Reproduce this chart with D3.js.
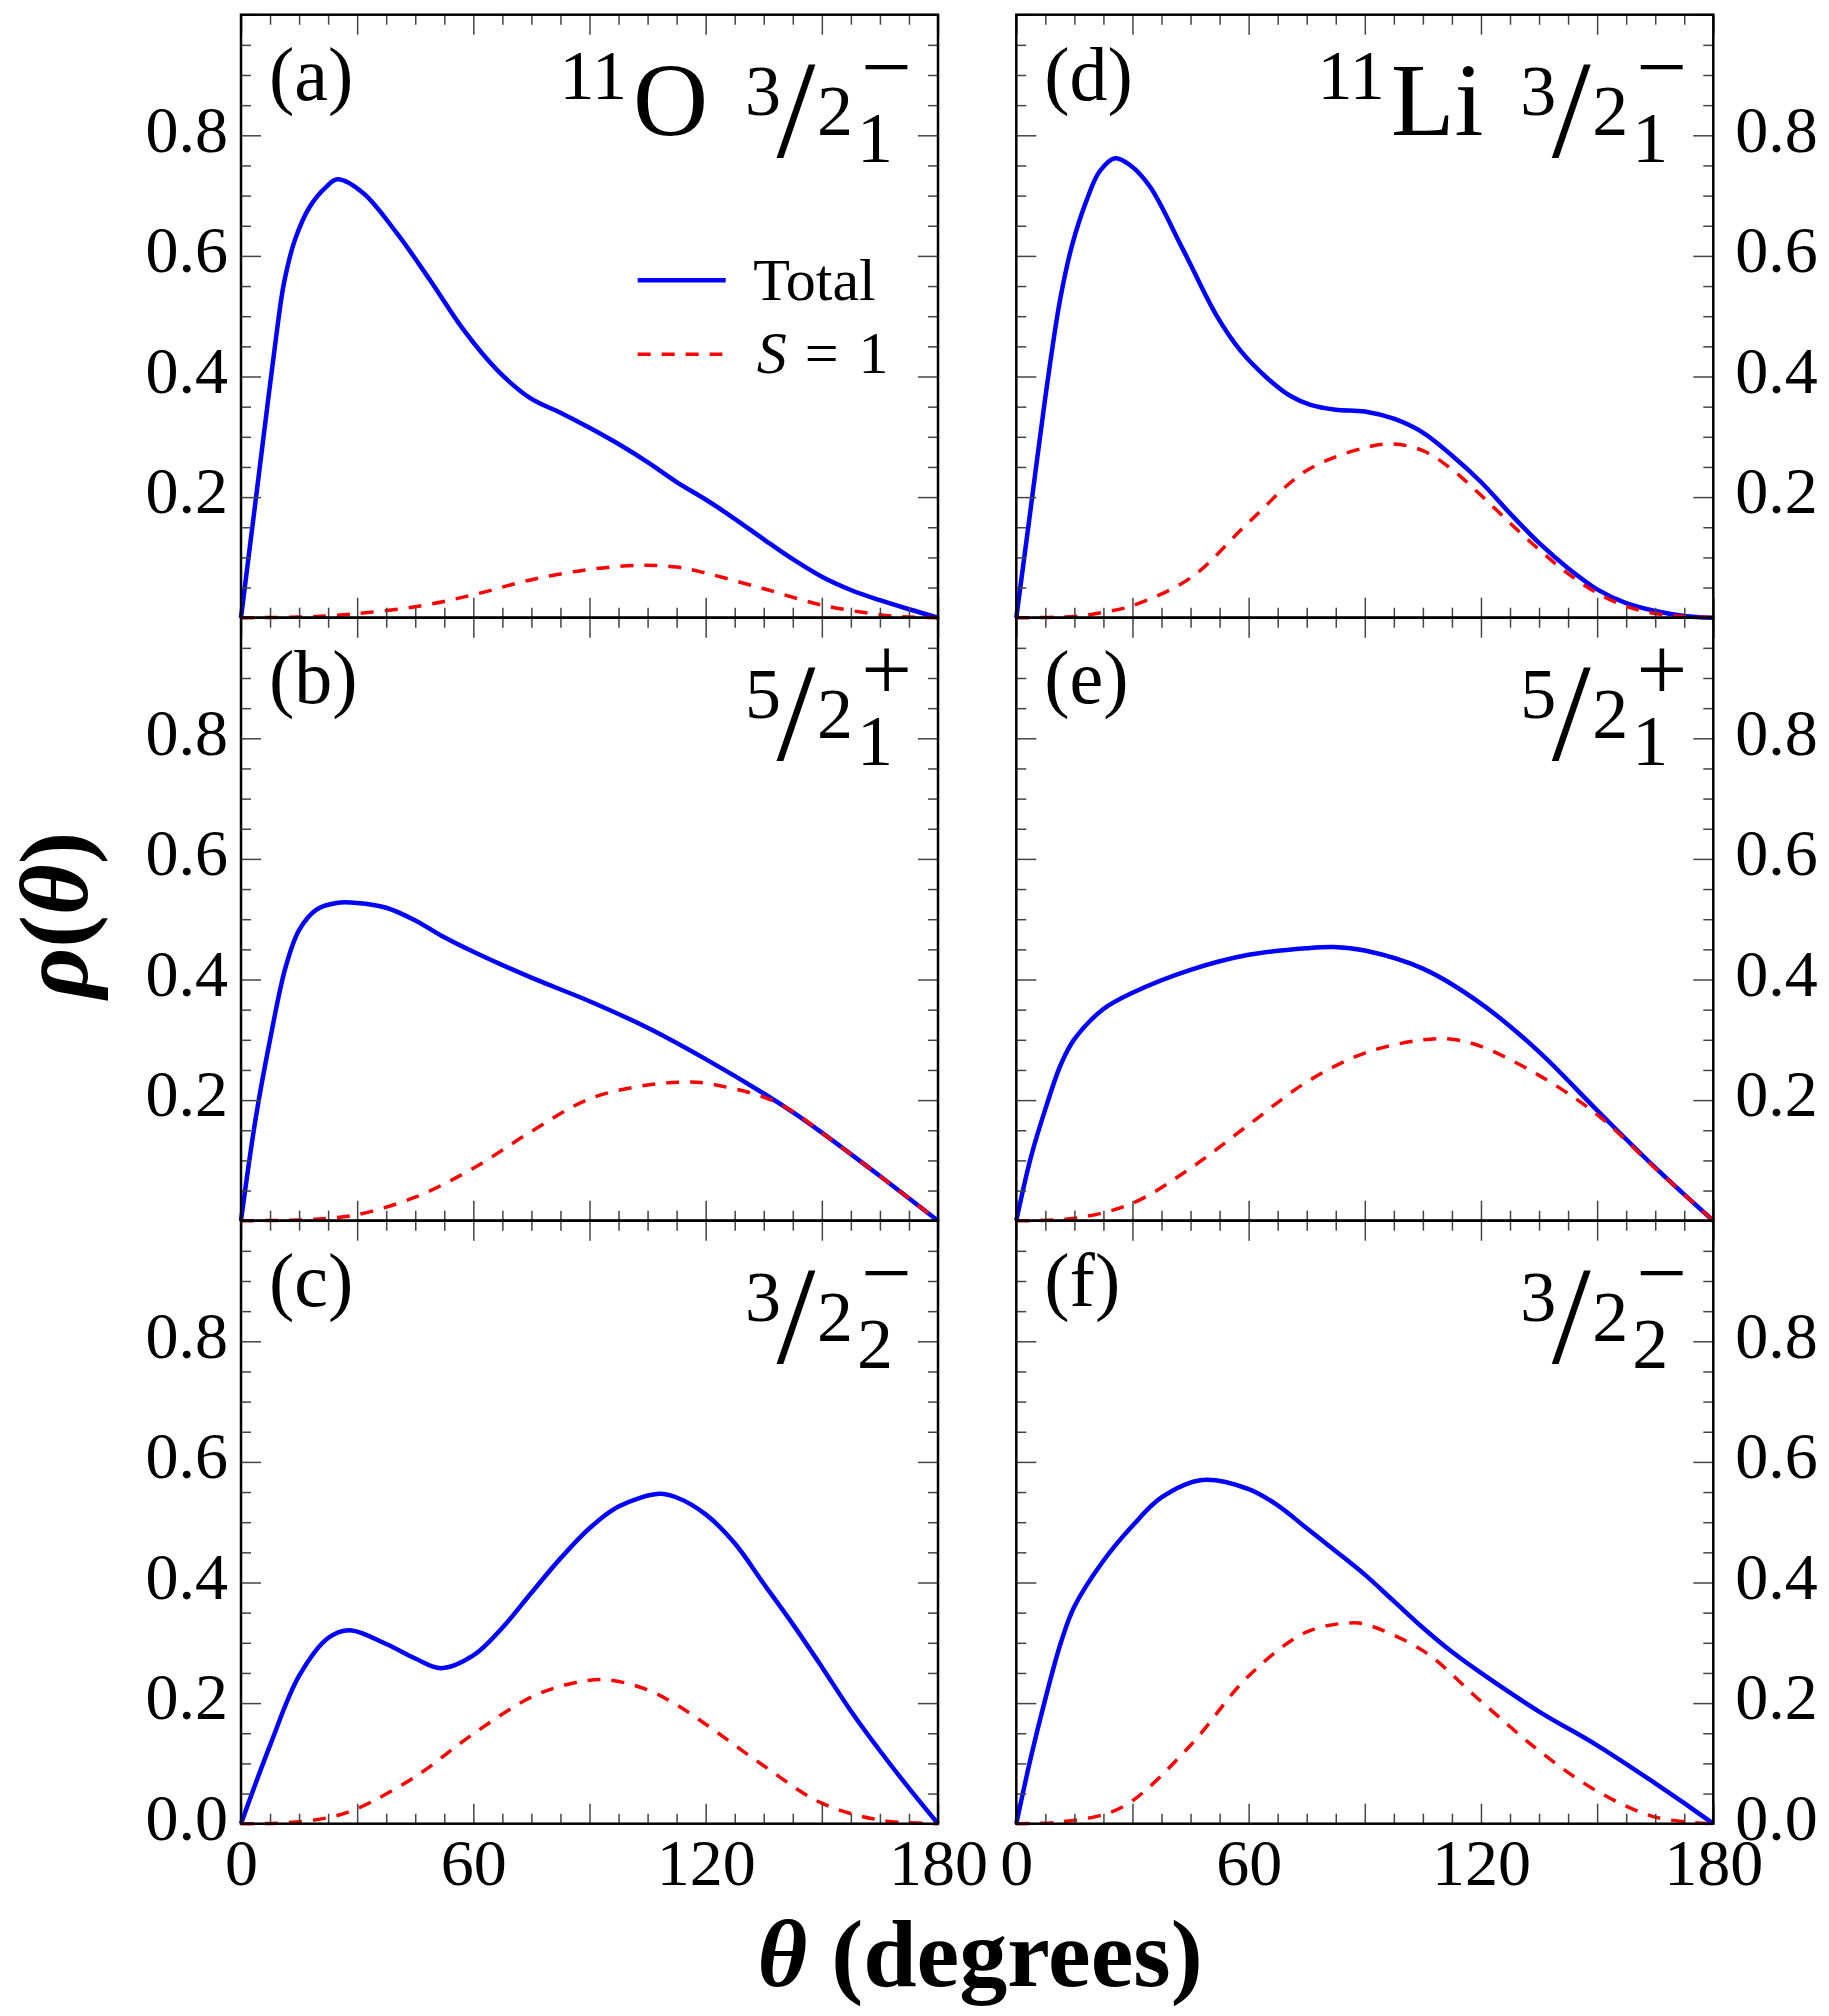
<!DOCTYPE html>
<html>
<head>
<meta charset="utf-8">
<script src="https://cdn.jsdelivr.net/npm/d3@7"></script>
<style>
  body { margin: 0; background: #fff; }
  svg text { font-family: "Liberation Serif", "Times New Roman", serif; fill: #000; }
</style>
</head>
<body>
<svg id="chart" width="1829" height="2016"></svg>
<script>
// angle (degrees), rho(theta) pairs
const totalA = [[0,0],[3.5,0.18],[7,0.361],[9.2,0.472],[11.1,0.555],[13.95,0.627],[17.8,0.682],[22.1,0.715],[24.9,0.727],[31.6,0.704],[40.2,0.638],[48.8,0.56],[57.4,0.478],[66.1,0.411],[74.7,0.364],[82.5,0.34],[90,0.315],[97.5,0.288],[105,0.258],[112.5,0.225],[120,0.196],[127.5,0.164],[135,0.13],[142.5,0.097],[150,0.068],[157.5,0.046],[165,0.029],[172.5,0.014],[180,0]];
const spinA = [[0,0],[15,0.001],[22.5,0.003],[30,0.007],[45,0.018],[60,0.038],[75,0.063],[90,0.08],[103,0.087],[112.5,0.084],[120,0.074],[135,0.048],[150,0.021],[165,0.005],[172.5,0.001],[180,0]];

const totalB = [[0,0],[3.8,0.17],[7.5,0.3],[11.5,0.42],[15,0.482],[19.5,0.516],[24.7,0.527],[30,0.527],[37.5,0.519],[45,0.498],[52.5,0.47],[60,0.446],[75,0.403],[90,0.364],[105,0.32],[120,0.268],[135,0.211],[142.5,0.18],[150,0.146],[165,0.074],[180,0]];
const spinB = [[0,0],[15,0.001],[22.5,0.004],[30,0.01],[45,0.039],[60,0.087],[75,0.148],[90,0.202],[105,0.225],[115,0.23],[120,0.228],[135,0.205],[142.5,0.181],[150,0.146],[165,0.074],[180,0]];

const totalC = [[0,0],[7.5,0.13],[15,0.245],[22.5,0.308],[28,0.321],[37.5,0.298],[45,0.274],[51.7,0.258],[60,0.279],[67.5,0.325],[75,0.383],[82.5,0.44],[90,0.49],[97.5,0.526],[108,0.547],[112.5,0.541],[120,0.513],[127.5,0.465],[135,0.398],[142.5,0.331],[150,0.26],[157.5,0.187],[165,0.121],[172.5,0.059],[180,0]];
const spinC = [[0,0],[10,0.001],[22.5,0.01],[30,0.025],[45,0.078],[60,0.149],[75,0.21],[85,0.232],[94,0.239],[105,0.222],[112.5,0.197],[120,0.165],[135,0.096],[150,0.034],[165,0.006],[180,0]];

const totalD = [[0,0],[3.7,0.18],[7.4,0.361],[11.3,0.527],[14.5,0.62],[18.2,0.693],[21.5,0.74],[25.5,0.762],[29.5,0.75],[34.5,0.715],[43.1,0.61],[51.8,0.5],[58,0.442],[64.7,0.398],[70.7,0.368],[76,0.353],[82.5,0.345],[90,0.342],[97.5,0.33],[105,0.307],[112.5,0.269],[120,0.225],[127.5,0.173],[135,0.124],[142.5,0.082],[150,0.047],[157.5,0.024],[165,0.011],[172.5,0.003],[180,0]];
const spinD = [[0,0],[15,0.002],[22.5,0.009],[30,0.02],[45,0.066],[60,0.158],[75,0.244],[90,0.282],[97.5,0.288],[105,0.277],[112.5,0.246],[120,0.203],[127.5,0.157],[135,0.113],[142.5,0.073],[150,0.041],[157.5,0.019],[165,0.007],[172.5,0.002],[180,0]];

const totalE = [[0,0],[3.8,0.106],[7.5,0.185],[11.5,0.259],[15,0.301],[22.5,0.351],[30,0.378],[45,0.416],[60,0.441],[75,0.452],[82,0.454],[90,0.448],[105,0.418],[120,0.36],[135,0.28],[150,0.183],[165,0.088],[180,0]];
const spinE = [[0,0],[15,0.004],[30,0.029],[45,0.087],[60,0.159],[75,0.23],[90,0.278],[105,0.3],[112.5,0.301],[120,0.289],[135,0.241],[150,0.176],[165,0.087],[180,0]];

const totalF = [[0,0],[3.8,0.111],[7.5,0.207],[11.5,0.3],[15,0.36],[22.5,0.436],[30,0.494],[37.5,0.541],[48,0.57],[60,0.555],[67.5,0.528],[75,0.49],[82.5,0.452],[90,0.413],[97.5,0.369],[105,0.325],[112.5,0.285],[120,0.25],[135,0.186],[150,0.13],[165,0.067],[172.5,0.034],[180,0]];
const spinF = [[0,0],[10,0.002],[22.5,0.015],[30,0.038],[45,0.13],[60,0.245],[75,0.318],[86,0.333],[90,0.331],[105,0.287],[120,0.203],[135,0.121],[150,0.054],[165,0.011],[180,0]];

const xMajor = [0, 30, 60, 90, 120, 150, 180];
const xMinor = d3.range(0, 180.1, 7.5);
const xLabels = [0, 60, 120, 180];
const yMajor = [0, 0.2, 0.4, 0.6, 0.8, 1.0];
const yMinor = d3.range(0, 1.001, 0.05);
const yLabelsTop = [0.2, 0.4, 0.6, 0.8];
const yLabelsBottom = [0.0, 0.2, 0.4, 0.6, 0.8];

const panelLetters = ['(a)', '(b)', '(c)', '(d)', '(e)', '(f)'];
const nuclei = ['O', '', '', 'Li', '', ''];
const numerators = ['3', '5', '3', '3', '5', '3'];
const levelIndex = ['1', '1', '2', '1', '1', '2'];
const parities = ['\u2212', '+', '\u2212', '\u2212', '+', '\u2212'];
const totals = [totalA, totalB, totalC, totalD, totalE, totalF];
const spins = [spinA, spinB, spinC, spinD, spinE, spinF];

const svg = d3.select('#chart');
const W = 697, H = 603;
const colX = [241, 1016.3];
const rowY = [14.7, 617.7, 1220.7];

const x = d3.scaleLinear().domain([0, 180]).range([0, W]);
const y = d3.scaleLinear().domain([0, 1]).range([H, 0]);
const line = d3.line().x(d => x(d[0])).y(d => y(d[1])).curve(d3.curveCatmullRom.alpha(0.5));

function tickAxis(g, axis, tx, ty) {
    g.append('g')
        .attr('transform', `translate(${tx},${ty})`)
        .call(axis)
        .call(a => a.select('.domain').remove())
        .call(a => a.selectAll('line').attr('stroke', '#444').attr('stroke-width', 1.5));
}

for (let i = 0; i < 6; i++) {
    const col = Math.floor(i / 3), row = i % 3;
    const g = svg.append('g').attr('transform', `translate(${colX[col]},${rowY[row]})`);

    // curves
    g.append('path').datum(totals[i]).attr('d', line)
        .attr('fill', 'none').attr('stroke', '#0000ff').attr('stroke-width', 4.5);
    g.append('path').datum(spins[i]).attr('d', line)
        .attr('fill', 'none').attr('stroke', '#ff0000').attr('stroke-width', 3.5)
        .attr('stroke-dasharray', '13,11');

    // inward ticks on all four sides
    const minX = xMinor.filter(v => v % 30 !== 0);
    const minY = yMinor.filter(v => Math.abs(v * 5 - Math.round(v * 5)) > 1e-6);
    tickAxis(g, d3.axisBottom(x).tickValues(xMajor).tickSize(-20).tickFormat(''), 0, H);
    tickAxis(g, d3.axisBottom(x).tickValues(minX).tickSize(-10).tickFormat(''), 0, H);
    tickAxis(g, d3.axisTop(x).tickValues(xMajor).tickSize(-20).tickFormat(''), 0, 0);
    tickAxis(g, d3.axisTop(x).tickValues(minX).tickSize(-10).tickFormat(''), 0, 0);
    tickAxis(g, d3.axisLeft(y).tickValues(yMajor).tickSize(-20).tickFormat(''), 0, 0);
    tickAxis(g, d3.axisLeft(y).tickValues(minY).tickSize(-10).tickFormat(''), 0, 0);
    tickAxis(g, d3.axisRight(y).tickValues(yMajor).tickSize(-20).tickFormat(''), W, 0);
    tickAxis(g, d3.axisRight(y).tickValues(minY).tickSize(-10).tickFormat(''), W, 0);

    // y tick labels
    const yVals = row === 2 ? yLabelsBottom : yLabelsTop;
    const yAx = col === 0
        ? d3.axisLeft(y).tickValues(yVals).tickSize(0).tickPadding(13)
        : d3.axisRight(y).tickValues(yVals).tickSize(0).tickPadding(22);
    g.append('g')
        .attr('transform', `translate(${col === 0 ? 0 : W},0)`)
        .call(yAx.tickFormat(d3.format('.1f')))
        .call(a => a.select('.domain').remove())
        .call(a => a.selectAll('text')
            .attr('dy', '0.24em')
            .style('font-size', '66px'));

    // x tick labels on bottom row
    if (row === 2) {
        g.append('g')
            .attr('transform', `translate(0,${H})`)
            .call(d3.axisBottom(x).tickValues(xLabels).tickSize(0).tickFormat(d3.format('d')))
            .call(a => a.select('.domain').remove())
            .call(a => a.selectAll('text')
                .attr('y', 61).attr('dy', 0)
                .style('font-size', '66px'));
    }

    // frame
    g.append('rect').attr('width', W).attr('height', H)
        .attr('fill', 'none').attr('stroke', '#000').attr('stroke-width', 2.5);

    // panel letter
    g.append('text').attr('x', 28).attr('y', 85).style('font-size', '76px').text(panelLetters[i]);

    // state label  (e.g. 11O 3/2_1^-)
    const R = W - 28;
    g.append('text').attr('x', R + 2).attr('y', 82).attr('text-anchor', 'end')
        .style('font-size', '90px').text(parities[i]);
    g.append('text').attr('x', R - 35).attr('y', 147).attr('text-anchor', 'middle')
        .style('font-size', '72px').text(levelIndex[i]);
    g.append('text').attr('x', R - 75).attr('y', 120).attr('text-anchor', 'middle')
        .style('font-size', '72px').text('2');
    g.append('text').attr('x', R - 114).attr('y', 142).attr('text-anchor', 'middle')
        .style('font-size', '140px').text('/');
    g.append('text').attr('x', R - 147).attr('y', 100).attr('text-anchor', 'middle')
        .style('font-size', '72px').text(numerators[i]);
    if (nuclei[i]) {
        const el = g.append('text').attr('x', R - 202).attr('y', 120).attr('text-anchor', 'end')
            .style('font-size', '104px').text(nuclei[i]);
        const elStart = R - 202 - el.node().getComputedTextLength();
        g.append('text').attr('x', elStart - 6).attr('y', 84).attr('text-anchor', 'end')
            .style('font-size', '70px').text('11');
    }

    // legend in panel (a)
    if (i === 0) {
        g.append('line').attr('x1', 396.7).attr('x2', 484.7).attr('y1', 265.6).attr('y2', 265.6)
            .attr('stroke', '#0000ff').attr('stroke-width', 4.5);
        g.append('line').attr('x1', 396.7).attr('x2', 481.3).attr('y1', 339.6).attr('y2', 339.6)
            .attr('stroke', '#ff0000').attr('stroke-width', 3.5).attr('stroke-dasharray', '13,11');
        g.append('text').attr('x', 512.3).attr('y', 285.3).style('font-size', '60px').text('Total');
        const s = g.append('text').attr('x', 515.7).attr('y', 358.6).style('font-size', '60px');
        s.append('tspan').style('font-style', 'italic').text('S');
        s.append('tspan').attr('dx', 18).text('=');
        s.append('tspan').attr('dx', 20).text('1');
    }
}

// axis titles
const yt = svg.append('text').attr('transform', 'translate(87,915) rotate(-90)')
    .attr('text-anchor', 'middle').style('font-size', '98px').style('font-weight', 'bold');
yt.append('tspan').style('font-style', 'italic').text('\u03C1');
yt.append('tspan').text('(');
yt.append('tspan').style('font-style', 'italic').text('\u03B8');
yt.append('tspan').text(')');

const xt = svg.append('text').attr('x', 980).attr('y', 1986)
    .attr('text-anchor', 'middle').style('font-size', '96px').style('font-weight', 'bold');
xt.append('tspan').style('font-style', 'italic').text('\u03B8');
xt.append('tspan').text(' (degrees)');
</script>
</body>
</html>
